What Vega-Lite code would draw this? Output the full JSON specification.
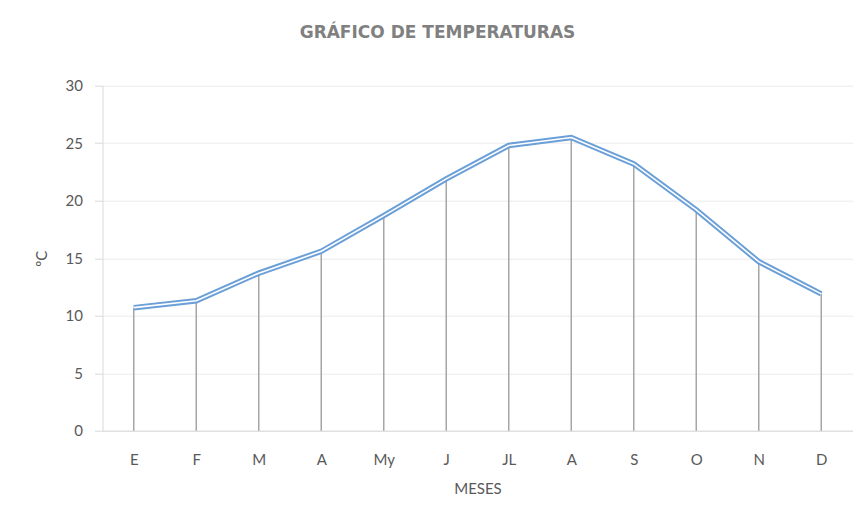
{
  "$schema": "https://vega.github.io/schema/vega-lite/v6.json",
  "autosize": "none",
  "width": 750,
  "height": 345,
  "padding": {"left": 102.5, "top": 85.7, "right": 4.5, "bottom": 82.3},
  "background": "white",
  "title": {
    "text": "GRÁFICO DE TEMPERATURAS",
    "font": "DejaVu Sans",
    "fontSize": 17,
    "fontWeight": "bold",
    "color": "#808080",
    "anchor": "middle",
    "dx": -40,
    "offset": 37
  },
  "data": {
    "values": [
      {"mes": "E", "t": 10.7},
      {"mes": "F", "t": 11.3},
      {"mes": "M", "t": 13.7},
      {"mes": "A", "t": 15.6},
      {"mes": "My", "t": 18.7},
      {"mes": "J", "t": 21.9},
      {"mes": "JL", "t": 24.8},
      {"mes": "A ", "t": 25.5},
      {"mes": "S", "t": 23.2},
      {"mes": "O", "t": 19.2},
      {"mes": "N", "t": 14.7},
      {"mes": "D", "t": 11.9}
    ]
  },
  "encoding": {
    "x": {
      "field": "mes",
      "type": "nominal",
      "sort": null,
      "scale": {"type": "point", "padding": 0.5},
      "axis": {
        "title": "MESES",
        "labelAngle": 0,
        "labelExpr": "trim(datum.value)",
        "ticks": false,
        "grid": false,
        "domainColor": "#d9d9d9",
        "domainWidth": 1,
        "labelPadding": 22,
        "titlePadding": 14
      }
    },
    "y": {
      "field": "t",
      "type": "quantitative",
      "scale": {"domain": [0, 30]},
      "axis": {
        "title": "ºC",
        "values": [0, 5, 10, 15, 20, 25, 30],
        "gridColor": "#ebebeb",
        "domainColor": "#d9d9d9",
        "tickColor": "#d9d9d9",
        "tickSize": 8,
        "labelPadding": 12,
        "titlePadding": 16
      }
    }
  },
  "layer": [
    {
      "mark": {"type": "rule", "color": "#a6a6a6", "strokeWidth": 1.5},
      "encoding": {"y2": {"datum": 0}}
    },
    {
      "mark": {"type": "line", "color": "#6a9fd8", "strokeWidth": 5.5, "strokeJoin": "miter"}
    },
    {
      "mark": {"type": "line", "color": "#ffffff", "strokeWidth": 1.6, "strokeJoin": "miter"}
    }
  ],
  "config": {
    "view": {"stroke": null},
    "font": "Lato",
    "axis": {
      "labelFont": "Lato",
      "labelFontSize": 15,
      "labelColor": "#595959",
      "titleFont": "Lato",
      "titleFontSize": 15,
      "titleFontWeight": "normal",
      "titleColor": "#595959"
    }
  }
}
